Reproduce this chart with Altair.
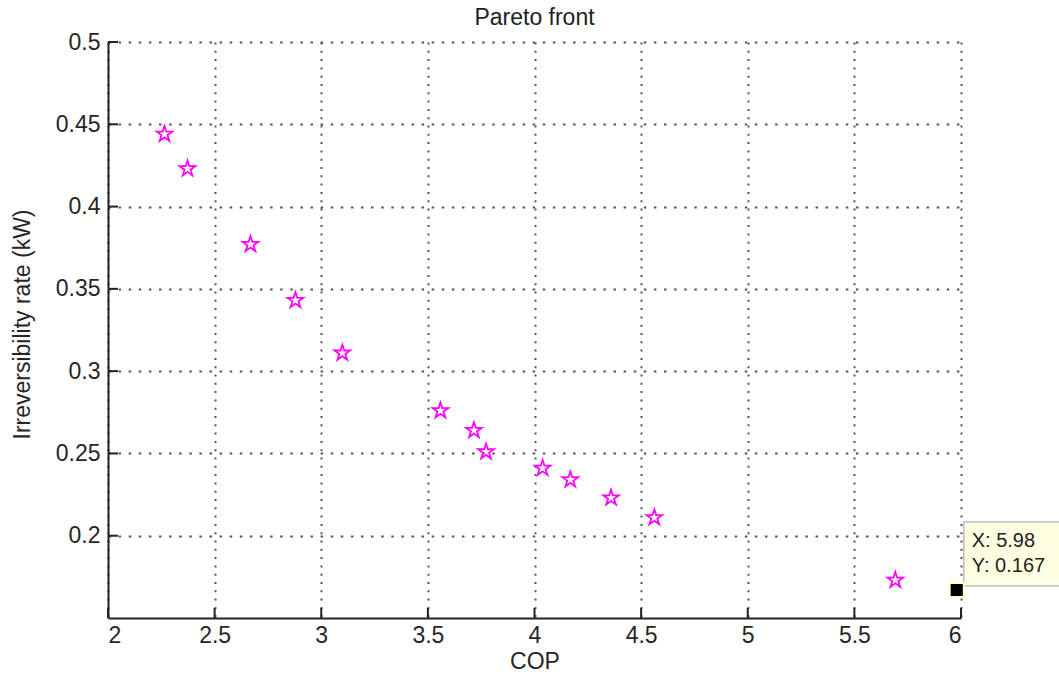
import altair as alt
import pandas as pd

# Pareto-optimal solutions: coefficient of performance vs. irreversibility rate
cop = [2.265, 2.373, 2.668, 2.879, 3.099, 3.559, 3.716, 3.773, 4.038, 4.168, 4.359, 4.562, 5.692]
irr = [0.444, 0.423, 0.377, 0.343, 0.311, 0.276, 0.264, 0.251, 0.241, 0.234, 0.223, 0.211, 0.173]

# Selected point shown with a data tip
tip_x = [5.98]
tip_y = [0.167]

x_ticks = [2, 2.5, 3, 3.5, 4, 4.5, 5, 5.5, 6]
y_ticks = [0.2, 0.25, 0.3, 0.35, 0.4, 0.45, 0.5]

FONT = "Liberation Sans"
W, H = 853, 576

pts = pd.DataFrame({"cop": cop, "irr": irr})
tip = pd.DataFrame({"cop": tip_x, "irr": tip_y,
                    "lx": [f"X: {v:g}" for v in tip_x],
                    "ly": [f"Y: {v:g}" for v in tip_y]})
xt = pd.DataFrame({"v": x_ticks})
yt = pd.DataFrame({"v": y_ticks})

xs = alt.Scale(domain=[2, 6], nice=False, zero=False)
ys = alt.Scale(domain=[0.15, 0.5], nice=False, zero=False)

# five-pointed star (pentagram marker)
STAR = ("M0,-1L0.225,-0.309L0.951,-0.309L0.363,0.118L0.588,0.809L0,0.382"
        "L-0.588,0.809L-0.363,0.118L-0.951,-0.309L-0.225,-0.309Z")

base = alt.Chart(pts).mark_point(
    shape=STAR, size=270, filled=False, color="#ff00ff", strokeWidth=1.8, opacity=1
).encode(
    x=alt.X("cop:Q", scale=xs,
            axis=alt.Axis(values=x_ticks, format=".1~f", title="COP",
                          gridDash=[2, 6.3], titleY=43, titleBaseline="middle")),
    y=alt.Y("irr:Q", scale=ys,
            axis=alt.Axis(values=y_ticks, format=".2~f", title="Irreversibility rate (kW)",
                          gridDash=[2.5, 7.6], titleX=-86, titleY=282,
                          titleBaseline="middle", titleAngle=270)),
)

# inward tick marks
xtick = alt.Chart(xt).mark_rule(color="#222", strokeWidth=2).encode(
    x=alt.X("v:Q", scale=xs), y=alt.value(H), y2=alt.value(H - 10))
ytick = alt.Chart(yt).mark_rule(color="#222", strokeWidth=2).encode(
    y=alt.Y("v:Q", scale=ys), x=alt.value(0), x2=alt.value(10))

# data tip: box, label and highlighted point
tip_box = alt.Chart(tip).mark_rect(
    fill="#ffffe1", stroke="#bdbdbd", strokeWidth=1.5,
    xOffset=7, x2Offset=125, yOffset=-68, y2Offset=-4
).encode(x=alt.X("cop:Q", scale=xs), x2="cop:Q", y=alt.Y("irr:Q", scale=ys), y2="irr:Q")

tip_pt = alt.Chart(tip).mark_point(
    shape="square", size=200, filled=True, fill="#000000", stroke="#ffffc8",
    strokeWidth=2, opacity=1
).encode(x=alt.X("cop:Q", scale=xs), y=alt.Y("irr:Q", scale=ys))

tip_lx = alt.Chart(tip).mark_text(
    align="left", baseline="alphabetic", dx=15, dy=-43, font=FONT, fontSize=20, color="#222"
).encode(x=alt.X("cop:Q", scale=xs), y=alt.Y("irr:Q", scale=ys), text="lx:N")
tip_ly = alt.Chart(tip).mark_text(
    align="left", baseline="alphabetic", dx=15, dy=-18, font=FONT, fontSize=20, color="#222"
).encode(x=alt.X("cop:Q", scale=xs), y=alt.Y("irr:Q", scale=ys), text="ly:N")

chart = alt.layer(base, xtick, ytick, tip_box, tip_pt, tip_lx, tip_ly).properties(
    width=W, height=H,
    title=alt.TitleParams("Pareto front", font=FONT, fontSize=23, fontWeight="normal",
                          color="#222", offset=1, anchor="middle"),
    autosize=alt.AutoSizeParams(type="none"),
    padding={"left": 108, "top": 42, "right": 98, "bottom": 61},
).configure_view(stroke=None).configure_axis(
    labelFont=FONT, labelFontSize=23, labelColor="#262626",
    titleFont=FONT, titleFontSize=23, titleColor="#262626", titleFontWeight="normal",
    domainColor="#222", domainWidth=2, ticks=False, labelPadding=8,
    gridColor="#555", gridWidth=2, gridOpacity=1,
).configure_axisX(labelPadding=6)

chart.save("out.html", embed_options={"renderer": "svg", "actions": False})
